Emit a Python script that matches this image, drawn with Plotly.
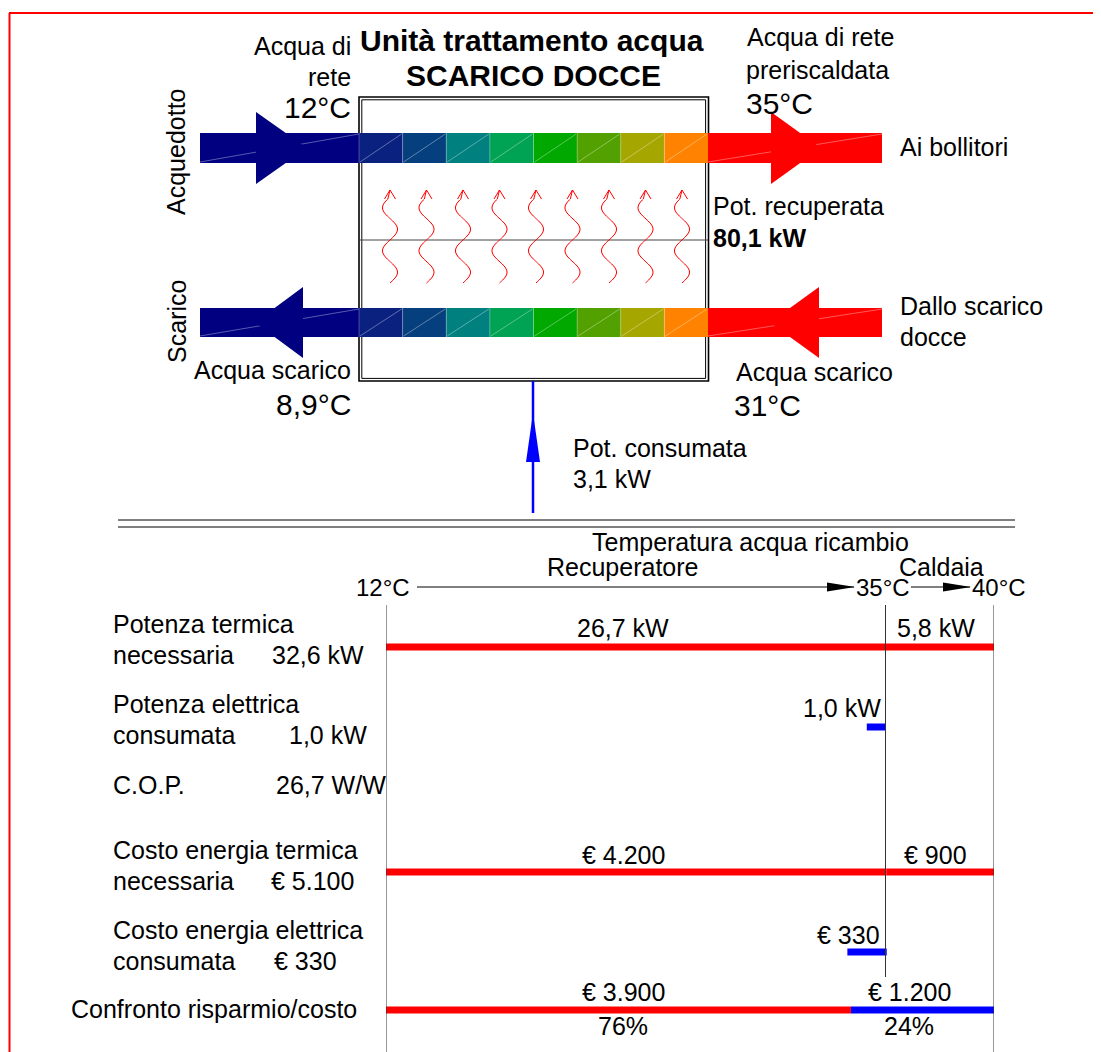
import numpy as np
import plotly.graph_objects as go

# ---------------- data ----------------
mains_temp_c = 12.0          # Acqua di rete
preheated_temp_c = 35.0      # Acqua di rete preriscaldata
drain_hot_temp_c = 31.0      # Acqua scarico (ingresso)
drain_cold_temp_c = 8.9      # Acqua scarico (uscita)
recovered_power_kw = 80.1    # Pot. recuperata
consumed_power_kw = 3.1      # Pot. consumata

axis_temps_c = [12, 35, 40]
stage_labels = ["Recuperatore", "Caldaia"]
thermal_power_kw = [26.7, 5.8]
thermal_power_total_kw = 32.6
electric_power_kw = 1.0
cop_w_per_w = 26.7
thermal_cost_eur = [4200, 900]
thermal_cost_total_eur = 5100
electric_cost_eur = 330
comparison_eur = [3900, 1200]
comparison_pct = [76, 24]


def it(v, dec=1):
    s = f"{v:,.{dec}f}"
    return s.replace(",", "#").replace(".", ",").replace("#", ".")


# ---------------- layout constants ----------------
W, H = 1101, 1052
OFF = 8                      # page offset of the plot (body margin)
CX0, CX1 = 386, 994
FONT = "Liberation Sans, Arial, sans-serif"
RED = "#FF0000"
BLUE = "#0000FF"
NAVY = "#000080"
SEG_COLORS = ["#0B2180", "#063F7E", "#00807F", "#00A253", "#00A800",
              "#52A100", "#A6A600", "#FF8300"]

shapes = []
annotations = []


def line(x0, y0, x1, y1, color="black", width=1, xref="x"):
    shapes.append(dict(type="line", x0=x0, y0=y0, x1=x1, y1=y1, xref=xref, yref="y",
                       line=dict(color=color, width=width)))


def rect(x0, y0, x1, y1, fill=None, color="black", width=0):
    shapes.append(dict(type="rect", x0=x0, y0=y0, x1=x1, y1=y1, xref="x", yref="y",
                       fillcolor=fill if fill else "rgba(0,0,0,0)",
                       line=dict(color=color, width=width)))


def path(d, fill=None, color="black", width=0):
    shapes.append(dict(type="path", path=d, xref="x", yref="y",
                       fillcolor=fill if fill else "rgba(0,0,0,0)",
                       line=dict(color=color, width=width)))


def T(x, y, s, size=25, xa="left", bold=False, angle=0, xref="x", xshift=0):
    annotations.append(dict(x=x, y=y, xref=xref, yref="y",
                            text=f"<b>{s}</b>" if bold else s, showarrow=False,
                            xanchor=xa, yanchor="middle", textangle=angle, xshift=xshift,
                            font=dict(family=FONT, size=size, color="black")))


# frame
line(9, 13, W + OFF, 13, RED, 2)
line(9.5, 13, 9.5, H + OFF, RED, 2)

# exchanger box (double line)
rect(359, 97, 708.5, 381, color="black", width=1.6)
rect(361.8, 99.8, 705.6, 378.4, color="black", width=1)
line(359, 240, 708, 240, "#444444", 1)

# bands
for (y0, y1) in [(133, 163), (308, 337)]:
    rect(200, y0, 359, y1, fill=NAVY)
    line(200, y1 - 1, 359, y0 + 1, "rgba(255,255,255,0.35)", 1)
    seg_w = (708 - 359) / len(SEG_COLORS)
    for i, c in enumerate(SEG_COLORS):
        sx0 = 359 + i * seg_w
        rect(sx0, y0, sx0 + seg_w, y1, fill=c)
        line(sx0 + 1, y1 - 1, sx0 + seg_w - 1, y0 + 1, "rgba(255,255,255,0.35)", 1)
        line(sx0, y0, sx0, y1, "rgba(255,255,255,0.25)", 1)
    rect(708, y0, 882, y1, fill=RED)
    line(708, y1 - 1, 882, y0 + 1, "rgba(255,255,255,0.35)", 1)

# thick arrowheads
path("M 256,112 L 307,148 L 256,184 Z", fill=NAVY)
path("M 771,112 L 821,148 L 771,184 Z", fill=RED)
path("M 303,287 L 255,322.5 L 303,358 Z", fill=NAVY)
path("M 819,287 L 770,322.5 L 819,358 Z", fill=RED)

# wavy heat arrows
for i in range(9):
    xc = 390 + 36.5 * i
    ys = np.arange(283, 198.5, -1.0)
    xs = xc + 7.5 * np.sin(2 * np.pi * (283 - ys) / 43)
    d = "M " + " L ".join(f"{x:.2f},{y:.2f}" for x, y in zip(xs, ys)) + f" L {xc:.2f},190"
    path(d, color=RED, width=1)
    path(f"M {xc-5.5:.2f},199 L {xc:.2f},190 L {xc+5.5:.2f},199", color=RED, width=1)

# consumed power arrow
line(533, 381, 533, 513, BLUE, 2.5)
path("M 533,413 L 540,462 L 526,462 Z", fill=BLUE)

# separator
line(118, 520, 1015, 520, "black", 1)
line(118, 527, 1015, 527, "black", 1)

# temperature axis arrows
line(417, 587, 854, 587, "black", 1)
path("M 827,582.5 L 855,587 L 827,591.5 Z", fill="black")
line(911, 587, 970, 587, "black", 1)
path("M 943,582.5 L 971,587 L 943,591.5 Z", fill="black")

# chart vertical lines (power scale)
kw_total = sum(thermal_power_kw)
line(0, 605, 0, H + OFF, "#333333", 1, xref="x2")
line(thermal_power_kw[0], 605, thermal_power_kw[0], 977, "#333333", 1, xref="x2")
line(kw_total, 605, kw_total, H + OFF, "#333333", 1, xref="x2")

# ---------------- texts: top diagram ----------------
T(176, 152, "Acquedotto", angle=-90, xa="center")
T(177, 322, "Scarico", angle=-90, xa="center")
T(353, 46, "Acqua di", xa="right")
T(353, 77, "rete", xa="right")
T(353, 107, f"{it(mains_temp_c, 0)}°C", size=30, xa="right")
T(532, 40, "Unità trattamento acqua", size=30, xa="center", bold=True)
T(533, 75, "SCARICO DOCCE", size=30, xa="center", bold=True)
T(745, 37, "Acqua di rete")
T(744, 70, "preriscaldata")
T(744, 103, f"{it(preheated_temp_c, 0)}°C", size=30)
T(898, 147, "Ai bollitori")
T(711, 206, "Pot. recuperata")
T(711, 238, f"{it(recovered_power_kw)} kW", bold=True)
T(898, 306, "Dallo scarico")
T(898, 337, "docce")
T(353, 370, "Acqua scarico", xa="right")
T(353, 404, f"{it(drain_cold_temp_c)}°C", size=30, xa="right")
T(734, 372, "Acqua scarico")
T(732, 405, f"{it(drain_hot_temp_c, 0)}°C", size=30)
T(571, 448, "Pot. consumata")
T(571, 479, f"{it(consumed_power_kw)} kW")

# ---------------- texts: lower chart ----------------
T(750, 542, "Temperatura acqua ricambio", xa="center")
T(622, 567, stage_labels[0], xa="center")
T(941, 567, stage_labels[1], xa="center")
for t, sh in zip(axis_temps_c, [-3, -2, 5]):
    T(t, 587, f"{t}°C", size=24, xa="center", xref="x4", xshift=sh)

T(111, 624, "Potenza termica")
T(111, 655, "necessaria")
T(270, 655, f"{it(thermal_power_total_kw)} kW")
T(111, 704, "Potenza elettrica")
T(111, 735, "consumata")
T(287, 735, f"{it(electric_power_kw)} kW")
T(111, 785, "C.O.P.")
T(274, 785, f"{it(cop_w_per_w)} W/W")
T(111, 850, "Costo energia termica")
T(111, 881, "necessaria")
T(269, 881, f"€ {it(thermal_cost_total_eur, 0)}")
T(111, 930, "Costo energia elettrica")
T(111, 961, "consumata")
T(272, 961, f"€ {it(electric_cost_eur, 0)}")
T(69, 1009, "Confronto risparmio/costo")

T(623, 628, f"{it(thermal_power_kw[0])} kW", xa="center")
T(936, 628, f"{it(thermal_power_kw[1])} kW", xa="center")
T(thermal_power_kw[0], 708, f"{it(electric_power_kw)} kW", xa="right", xref="x2", xshift=-3)
T(623, 855, f"€ {it(thermal_cost_eur[0], 0)}", xa="center")
T(935, 855, f"€ {it(thermal_cost_eur[1], 0)}", xa="center")
T(thermal_cost_eur[0], 935, f"€ {it(electric_cost_eur, 0)}", xa="right", xref="x3", xshift=-5)
T(623, 992, f"€ {it(comparison_eur[0], 0)}", xa="center")
T(623, 1026, f"{comparison_pct[0]}%", xa="center")
T(909, 992, f"€ {it(comparison_eur[1], 0)}", xa="center")
T(909, 1026, f"{comparison_pct[1]}%", xa="center")

# ---------------- bars ----------------
ROW_Y = {"thermal": 647, "electric": 727, "tcost": 872, "ecost": 952, "compare": 1010}
BAR_H = 7

fig = go.Figure()


def hbar(base, length, y, color, xaxis):
    fig.add_trace(go.Bar(orientation="h", base=base, x=length, y=[y] * len(base),
                         width=BAR_H, marker=dict(color=color, line=dict(width=0)),
                         xaxis=xaxis, yaxis="y", hoverinfo="skip", showlegend=False))


hbar([0, thermal_power_kw[0]], thermal_power_kw, ROW_Y["thermal"], RED, "x2")
hbar([thermal_power_kw[0] - electric_power_kw], [electric_power_kw], ROW_Y["electric"], BLUE, "x2")
hbar([0, thermal_cost_eur[0]], thermal_cost_eur, ROW_Y["tcost"], RED, "x3")
hbar([thermal_cost_eur[0] - electric_cost_eur], [electric_cost_eur], ROW_Y["ecost"], BLUE, "x3")
hbar([0], [comparison_eur[0]], ROW_Y["compare"], RED, "x3")
hbar([comparison_eur[0]], [comparison_eur[1]], ROW_Y["compare"], BLUE, "x3")

# temperature scale anchor (invisible)
fig.add_trace(go.Scatter(x=axis_temps_c, y=[587] * len(axis_temps_c), mode="markers",
                         marker=dict(opacity=0), xaxis="x4", yaxis="y",
                         hoverinfo="skip", showlegend=False))
# main pixel canvas anchor (invisible)
fig.add_trace(go.Scatter(x=[OFF, W], y=[OFF, H], mode="markers", marker=dict(opacity=0),
                         xaxis="x", yaxis="y", hoverinfo="skip", showlegend=False))

dom = [(CX0 - OFF) / W, (CX1 - OFF) / W]
hidden = dict(visible=False, showgrid=False, zeroline=False, fixedrange=True)
fig.update_layout(
    width=W, height=H, margin=dict(l=0, r=0, t=0, b=0),
    paper_bgcolor="white", plot_bgcolor="rgba(0,0,0,0)",
    barmode="overlay", showlegend=False,
    xaxis=dict(range=[OFF, W + OFF], domain=[0, 1], **hidden),
    yaxis=dict(range=[H + OFF, OFF], domain=[0, 1], **hidden),
    xaxis2=dict(range=[0, kw_total], domain=dom, anchor="y", **hidden),
    xaxis3=dict(range=[0, sum(thermal_cost_eur)], domain=dom, anchor="y", **hidden),
    xaxis4=dict(range=[axis_temps_c[0], axis_temps_c[-1]], domain=dom, anchor="y", **hidden),
    shapes=shapes, annotations=annotations,
)

fig.write_html("out.html")
